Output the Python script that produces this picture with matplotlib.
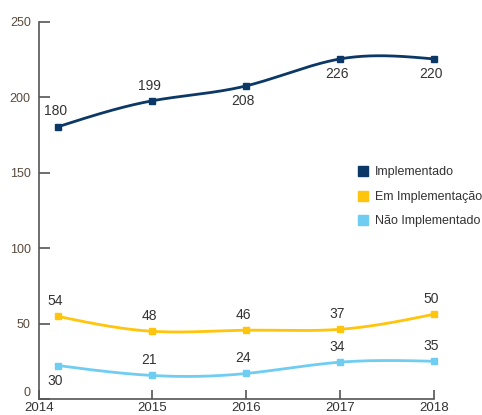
import numpy as np
import matplotlib
matplotlib.use("Agg")
import matplotlib.pyplot as plt
from matplotlib.lines import Line2D

plt.rcParams['font.family'] = ['Liberation Sans', 'DejaVu Sans']

# dados
anos = [2014, 2015, 2016, 2017, 2018]
implementado = [180.5, 197.7, 207.6, 225.5, 225.5]
em_implementacao = [54.8, 44.9, 45.6, 46.2, 56.2]
nao_implementado = [22.2, 15.6, 16.9, 24.4, 25.0]
rot_implementado = ["180", "199", "208", "226", "220"]
rot_em = ["54", "48", "46", "37", "50"]
rot_nao = ["30", "21", "24", "34", "35"]

cor_impl = "#0b3866"
cor_em = "#ffc40c"
cor_nao = "#6fcdf2"


def spline(x, y, n=200):
    # spline cubica natural so para suavizar o traço
    x = np.asarray(x, float)
    y = np.asarray(y, float)
    k = len(x)
    h = np.diff(x)
    A = np.zeros((k, k))
    b = np.zeros(k)
    A[0, 0] = A[-1, -1] = 1
    for i in range(1, k - 1):
        A[i, i - 1] = h[i - 1]
        A[i, i] = 2 * (h[i - 1] + h[i])
        A[i, i + 1] = h[i]
        b[i] = 6 * ((y[i + 1] - y[i]) / h[i] - (y[i] - y[i - 1]) / h[i - 1])
    M = np.linalg.solve(A, b)
    xs = np.linspace(x[0], x[-1], n)
    idx = np.clip(np.searchsorted(x, xs) - 1, 0, k - 2)
    x0, x1 = x[idx], x[idx + 1]
    hh = x1 - x0
    t0, t1 = x1 - xs, xs - x0
    ys = (M[idx] * t0 ** 3 + M[idx + 1] * t1 ** 3) / (6 * hh) \
        + (y[idx] / hh - M[idx] * hh / 6) * t0 + (y[idx + 1] / hh - M[idx + 1] * hh / 6) * t1
    return xs, ys


fig = plt.figure(figsize=(4.82, 4.15), dpi=100)
ax = fig.add_axes([0.081, 0.0386, 0.8195, 0.9084])

series = [
    (implementado, rot_implementado, cor_impl, ["above", "above", "below", "below", "below"]),
    (em_implementacao, rot_em, cor_em, ["above"] * 5),
    (nao_implementado, rot_nao, cor_nao, ["below", "above", "above", "above", "above"]),
]

for valores, rotulos, cor, pos in series:
    xs, ys = spline(anos, valores)
    ax.plot(xs, ys, color=cor, lw=2, clip_on=False, zorder=3)
    ax.plot(anos, valores, "s", color=cor, ms=5, clip_on=False, zorder=4)
    for a, v, r, p in zip(anos, valores, rotulos, pos):
        dy = 6 if p == "above" else -6
        ax.annotate(r, (a, v), xytext=(-2, dy), textcoords="offset points",
                    ha="center", va="bottom" if p == "above" else "top",
                    fontsize=10, color="#333333")

ax.set_xlim(2013.8, 2018)
ax.set_ylim(0, 250)
ax.set_yticks([0, 50, 100, 150, 200, 250])
ax.set_xticks([2013.8, 2015, 2016, 2017, 2018])
ax.set_xticklabels([str(a) for a in anos])

for s in ["top", "right"]:
    ax.spines[s].set_visible(False)
for s in ["left", "bottom"]:
    ax.spines[s].set_color("#555555")
    ax.spines[s].set_linewidth(1.2)

ax.tick_params(axis="y", direction="in", length=8, width=1.2, color="#555555",
               pad=6, labelsize=9, labelcolor="#5a4a3c")
ax.tick_params(axis="x", direction="in", length=6.5, width=1.2, color="#555555",
               pad=2, labelsize=9.5, labelcolor="#333333")
# o "0" fica um pouco acima do eixo, como no original
ax.get_yticklabels()[0].set_va("bottom")

handles = [Line2D([], [], marker="s", ls="", color=c, ms=7)
           for c in [cor_impl, cor_em, cor_nao]]
fig.legend(handles, ["Implementado", "Em Implementação", "Não Implementado"],
           loc="upper left", bbox_to_anchor=(0.728, 0.614), frameon=False,
           fontsize=9, labelspacing=1.0, handletextpad=0.4, handlelength=1,
           borderpad=0, labelcolor="#333333")

fig.savefig("out.png", dpi=100)
